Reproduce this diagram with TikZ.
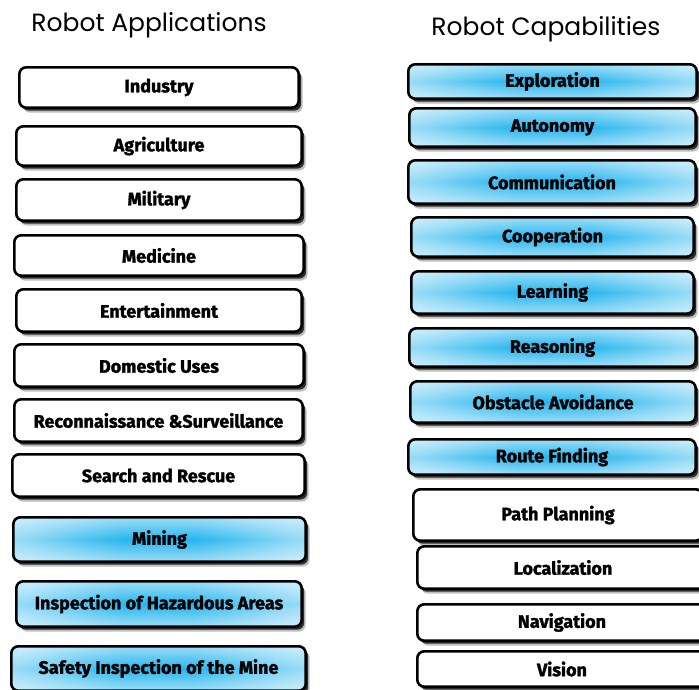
\documentclass[tikz,border=0pt]{standalone}
\usepackage{fontspec}
\usetikzlibrary{shadows,fadings}
\newfontfamily\boxfont{Fira Sans}[FakeBold=1.6]
\newfontfamily\titlefont{Poppins}
\definecolor{skyC}{RGB}{40,182,238}
\pgfdeclarehorizontalshading{skyband}{100bp}{%
  color(0bp)=(skyC!2!white);
  color(6bp)=(skyC!10!white);
  color(16bp)=(skyC!28!white);
  color(28bp)=(skyC!55!white);
  color(38bp)=(skyC!85!white);
  color(44bp)=(skyC);
  color(56bp)=(skyC);
  color(62bp)=(skyC!85!white);
  color(72bp)=(skyC!55!white);
  color(84bp)=(skyC!28!white);
  color(94bp)=(skyC!10!white);
  color(100bp)=(skyC!2!white)}
\tikzfading[name=edgefade, top color=transparent!45, bottom color=transparent!45, middle color=transparent!100]
\tikzset{
  card/.style={draw=black, line width=2.6pt, rounded corners=7pt, inner sep=0pt,
    font=\boxfont\bfseries\fontsize{18}{18}\selectfont, text=black,
    general shadow={shadow xshift=4pt, shadow yshift=-5pt, fill=black, opacity=.25},
    drop shadow={shadow xshift=2.5pt, shadow yshift=-3pt, fill=black, opacity=.75}},
  whitecard/.style={card, fill=white},
  bluecard/.style={card, shading=skyband,
    path picture={\fill[white, path fading=edgefade]
      (path picture bounding box.south west) rectangle (path picture bounding box.north east);}},
  heading/.style={font=\titlefont\fontsize{25}{28}\selectfont, text=black, inner sep=0pt}
}
% \cardat{name}{style}{left}{right}{top}{bottom}{text}
\newcommand{\cardat}[7]{%
  \pgfmathsetmacro{\cx}{(#3+#4)/2}\pgfmathsetmacro{\cy}{(#5+#6)/2}%
  \pgfmathsetmacro{\cw}{#4-#3-2.6}\pgfmathsetmacro{\ch}{#6-#5-2.6}%
  \node[#2, minimum width=\cw pt, minimum height=\ch pt] (#1) at (\cx,\cy) {#7};}
\begin{document}
\begin{tikzpicture}[x=1pt,y=-1pt]
\useasboundingbox (0,0) rectangle (699,689);
\fill[white] (0,0) rectangle (699,689);
\node[heading] (tapp) at (149,25) {Robot Applications};
\node[heading] (tcap) at (546,29) {Robot Capabilities};
% left column
\cardat{a1}{whitecard}{18}{300}{66}{109}{Industry}
\cardat{a2}{whitecard}{15}{303}{125}{167}{Agriculture}
\cardat{a3}{whitecard}{15}{303}{178}{222}{Military}
\cardat{a4}{whitecard}{13}{305}{234}{277}{Medicine}
\cardat{a5}{whitecard}{15}{303}{288}{333}{Entertainment}
\cardat{a6}{whitecard}{13}{305}{343}{388}{Domestic Uses}
\cardat{a7}{whitecard}{13}{304}{398}{443}{Reconnaissance \&Surveillance}
\cardat{a8}{whitecard}{11}{306}{453}{498}{Search and Rescue}
\cardat{a9}{bluecard}{12}{307}{516}{563}{Mining}
\cardat{a10}{bluecard}{15}{303}{580}{628}{Inspection of Hazardous Areas}
\cardat{a11}{bluecard}{10}{307}{645}{692}{Safety Inspection of the Mine}
% right column
\cardat{c1}{bluecard}{407}{698}{63}{100}{Exploration}
\cardat{c2}{bluecard}{408}{697}{107}{148}{Autonomy}
\cardat{c3}{bluecard}{407}{697}{159}{205}{Communication}
\cardat{c4}{bluecard}{410}{695}{216}{258}{Cooperation}
\cardat{c5}{bluecard}{410}{695}{270}{315}{Learning}
\cardat{c6}{bluecard}{408}{697}{327}{368}{Reasoning}
\cardat{c7}{bluecard}{409}{697}{380}{424}{Obstacle Avoidance}
\cardat{c8}{bluecard}{407}{697}{438}{476}{Route Finding}
\cardat{c9}{whitecard}{412}{704}{488}{542}{Path Planning}
\cardat{c10}{whitecard}{416}{710}{545}{590}{Localization}
\cardat{c11}{whitecard}{416}{708}{603}{642}{Navigation}
\cardat{c12}{whitecard}{416}{708}{650}{688}{Vision}
\end{tikzpicture}
\end{document}
